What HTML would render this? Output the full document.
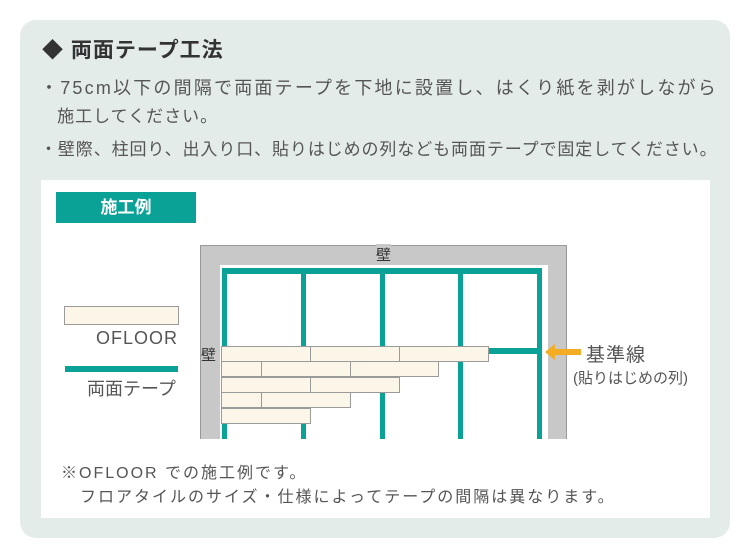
<!DOCTYPE html>
<html><head><meta charset="utf-8"><style>
*{margin:0;padding:0;box-sizing:border-box}
body{width:750px;height:560px;background:#fff;position:relative;overflow:hidden;font-family:"Liberation Sans","Noto Sans CJK JP",sans-serif;color:#555}
.a{position:absolute;white-space:nowrap}
.t{background:#0aa196;position:absolute}
.p{position:absolute;background:#fbf6e8;border:1px solid #9a9a9a}
</style></head><body>
<div class="a" style="left:20px;top:20px;width:710px;height:518px;background:#e4ecea;border-radius:16px"></div>
<div class="a" style="left:42px;top:34px;font-size:21px;font-weight:bold;color:#333;letter-spacing:1px">◆ 両面テープ工法</div>
<div class="a" style="left:40px;top:74px;font-size:18px;color:#555;letter-spacing:2.2px">・75cm以下の間隔で両面テープを下地に設置し、はくり紙を剥がしながら</div>
<div class="a" style="left:40px;top:102px;font-size:17px;color:#555;letter-spacing:1px">&nbsp;&nbsp;&nbsp;施工してください。</div>
<div class="a" style="left:40px;top:135px;font-size:17px;color:#555;letter-spacing:0.9px">・壁際、柱回り、出入り口、貼りはじめの列なども両面テープで固定してください。</div>
<div class="a" style="left:41px;top:180px;width:669px;height:338px;background:#fff"></div>
<div class="a" style="left:56px;top:192px;width:140px;height:31px;background:#0aa196;color:#fff;font-weight:bold;font-size:17px;text-align:center;line-height:31px">施工例</div>
<div class="p" style="left:64px;top:306px;width:115px;height:19px"></div>
<div class="a" style="left:96px;top:328px;font-size:18px;color:#555;letter-spacing:1px">OFLOOR</div>
<div class="t" style="left:65px;top:366px;width:113px;height:6px"></div>
<div class="a" style="left:87px;top:375px;font-size:18px;color:#555">両面テープ</div>
<div class="a" style="left:200px;top:245px;width:367px;height:194px;background:#c8c8c8;border:1px solid #999;border-bottom:none"></div>
<div class="a" style="left:220px;top:265px;width:328px;height:174px;background:#fff"></div>
<div class="a" style="left:376px;top:244px;font-size:15px;color:#333;background:#c8c8c8">壁</div>
<div class="a" style="left:201px;top:344px;font-size:15px;color:#333">壁</div>
<div class="t" style="left:222px;top:268px;width:320px;height:6px"></div>
<div class="t" style="left:222px;top:268px;width:5px;height:171px"></div>
<div class="t" style="left:301px;top:268px;width:5px;height:171px"></div>
<div class="t" style="left:380px;top:268px;width:5px;height:171px"></div>
<div class="t" style="left:458px;top:268px;width:5px;height:171px"></div>
<div class="t" style="left:537px;top:268px;width:5px;height:171px"></div>
<div class="t" style="left:488px;top:348px;width:52px;height:6px"></div>
<div class="p" style="left:221px;top:346px;width:90px;height:16px"></div>
<div class="p" style="left:310px;top:346px;width:90px;height:16px"></div>
<div class="p" style="left:399px;top:346px;width:90px;height:16px"></div>
<div class="p" style="left:221px;top:361px;width:41px;height:16px"></div>
<div class="p" style="left:261px;top:361px;width:90px;height:16px"></div>
<div class="p" style="left:350px;top:361px;width:89px;height:16px"></div>
<div class="p" style="left:221px;top:377px;width:90px;height:16px"></div>
<div class="p" style="left:310px;top:377px;width:90px;height:16px"></div>
<div class="p" style="left:221px;top:392px;width:41px;height:16px"></div>
<div class="p" style="left:261px;top:392px;width:90px;height:16px"></div>
<div class="p" style="left:221px;top:408px;width:90px;height:16px"></div>
<svg class="a" style="left:543px;top:342px" width="40" height="20"><polygon points="2,10 12,2 12,7 38,7 38,13 12,13 12,18" fill="#f4ad23"/></svg>
<div class="a" style="left:586px;top:340px;font-size:19px;color:#555;letter-spacing:1px">基準線</div>
<div class="a" style="left:573px;top:367px;font-size:15px;color:#555">(貼りはじめの列)</div>
<div class="a" style="left:61px;top:459px;font-size:16px;color:#555;letter-spacing:2px">※OFLOOR での施工例です。</div>
<div class="a" style="left:80px;top:483px;font-size:16px;color:#555;letter-spacing:2px">フロアタイルのサイズ・仕様によってテープの間隔は異なります。</div>
</body></html>
